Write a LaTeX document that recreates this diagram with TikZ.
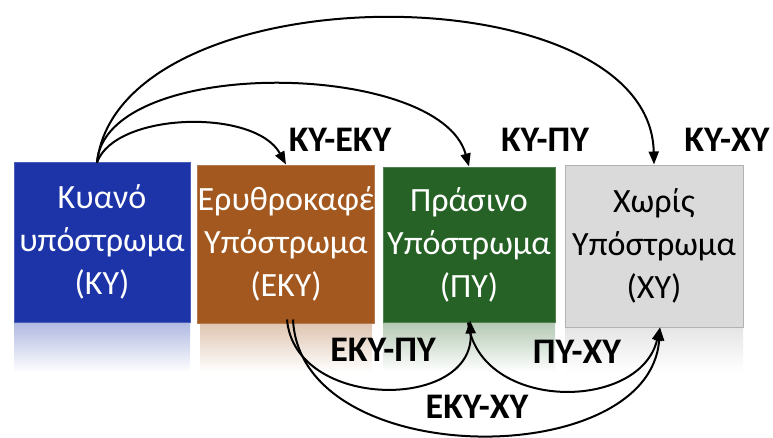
\documentclass[tikz,border=0pt]{standalone}
\usepackage{fontspec}
\setmainfont{Carlito}
\usetikzlibrary{arrows.meta,calc}
\definecolor{cblue}{RGB}{28,52,168}
\definecolor{cbrown}{RGB}{162,88,30}
\definecolor{cgreen}{RGB}{38,98,38}
\definecolor{cgray}{RGB}{218,218,218}
\tikzset{
  tile/.style={rectangle, inner sep=0pt, align=center, font=\fontsize{34}{43}\selectfont, text=white},
  link/.style={line width=2pt, draw=black, -{Triangle[length=13pt,width=10pt]}},
  tag/.style={font=\fontsize{36}{40}\selectfont\bfseries, text=black, inner sep=0pt}
}
\begin{document}
\begin{tikzpicture}[x=1pt,y=-1pt]
\useasboundingbox (0,0) rectangle (773,437);
% reflections
\shade[top color=cblue!35, bottom color=white] (14,322) rectangle (190,372);
\shade[top color=cbrown!35, bottom color=white] (200,323) rectangle (372,372);
\shade[top color=cgreen!35, bottom color=white] (383,322) rectangle (555,372);
\shade[top color=cgray!70, bottom color=white] (565,327) rectangle (743,372);
% tiles
\node[tile, fill=cblue, draw=cblue!80!white, line width=1pt, minimum width=176pt, minimum height=160pt] (ky) at (102,242) {Κυανό\\υπόστρωμα\\(ΚΥ)};
\node[tile, fill=cbrown, draw=cbrown!80!white, line width=1pt, minimum width=172pt, minimum height=158pt] (eky) at (286,244) {Ερυθροκαφέ\\Υπόστρωμα\\(ΕΚΥ)};
\node[tile, fill=cgreen, draw=cgreen!80!white, line width=1pt, minimum width=172pt, minimum height=155pt] (py) at (469,244.5) {Πράσινο\\Υπόστρωμα\\(ΠΥ)};
\node[tile, fill=cgray, draw=gray!60, line width=1pt, text=black, minimum width=178pt, minimum height=162pt] (xy) at (654,246) {Χωρίς\\Υπόστρωμα\\(ΧΥ)};
% anchor coordinates
\coordinate (kyt) at ($(ky.north)+(-5,1)$);
\coordinate (ekyb1) at ($(eky.south)+(1,-4)$);
\coordinate (ekyb2) at ($(eky.south)+(7,-4)$);
\coordinate (pyb) at ($(py.south)+(1,-2)$);
\coordinate (pyb2) at ($(py.south)+(-1,0)$);
\coordinate (xyb) at ($(xy.south)+(6,0)$);
% top arcs
\draw[link] (kyt) .. controls (115,112) and (255,108) .. (eky.north);
\draw[link] (kyt) .. controls (105,55) and (440,60) .. (py.north);
\draw[link] (kyt) .. controls (120,-30) and (650,-30) .. (xy.north);
% bottom arcs
\draw[link] (ekyb1) .. controls (295,411) and (475,411) .. (pyb);
\draw[link] (pyb2) .. controls (480,412) and (640,412) .. (xyb);
\draw[link] (ekyb2) .. controls (300,472) and (650,472) .. (xyb);
% labels
\node[tag] (l1) at (340,140) {ΚΥ-ΕΚΥ};
\node[tag] (l2) at (545,140) {ΚΥ-ΠΥ};
\node[tag] (l3) at (727,140) {ΚΥ-ΧΥ};
\node[tag] (l4) at (383,350) {ΕΚΥ-ΠΥ};
\node[tag] (l5) at (577,352) {ΠΥ-ΧΥ};
\node[tag] (l6) at (477,407) {ΕΚΥ-ΧΥ};
\end{tikzpicture}
\end{document}
